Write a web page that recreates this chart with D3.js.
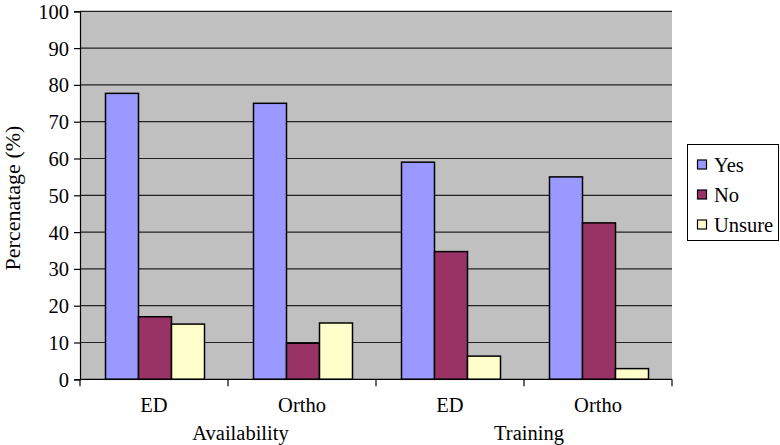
<!DOCTYPE html>
<html><head><meta charset="utf-8">
<script src="https://cdn.jsdelivr.net/npm/d3@7"></script>
<style>body{margin:0;background:#fff}svg{display:block}text{font-family:"Liberation Serif","Times New Roman",serif;fill:#000}</style>
</head><body><svg id="c" width="780" height="445"></svg>
<script>
const categories = ["ED", "Ortho", "ED", "Ortho"];
const groups = ["Availability", "Training"];
const seriesNames = ["Yes", "No", "Unsure"];
const yesValues = [77.7, 75.0, 59.0, 55.0];
const noValues = [17.0, 9.8, 34.7, 42.5];
const unsureValues = [15.0, 15.3, 6.3, 2.9];
const yTicks = [0, 10, 20, 30, 40, 50, 60, 70, 80, 90, 100];
const colors = ["#9999FF", "#993366", "#FFFFCC"];

const series = [yesValues, noValues, unsureValues];
const svg = d3.select("#c");
const L = 80, R = 672, T = 11.3, B = 379.3;
const FS = 20.5;
const groupLabelShift = [12.5, 5];
const x = d3.scaleBand().domain(d3.range(categories.length)).range([L, R]).paddingInner(0).paddingOuter(0);
const y = d3.scaleLinear().domain([0, 100]).range([B, T]);
const bw = 33;
const x1 = d3.scaleBand().domain(d3.range(3)).range([0, bw * 3]);

svg.append("rect").attr("x", L).attr("y", T).attr("width", R - L).attr("height", B - T).attr("fill", "#C0C0C0");
svg.append("g").selectAll("line").data(yTicks.slice(1)).join("line")
  .attr("x1", L).attr("x2", R).attr("y1", d => y(d)).attr("y2", d => y(d))
  .attr("stroke", "#222").attr("stroke-width", 1.2);

categories.forEach((c, i) => {
  const g0 = x(i) + (x.bandwidth() - bw * 3) / 2 + 1;
  series.forEach((s, k) => {
    svg.append("rect").attr("x", g0 + x1(k)).attr("y", y(s[i]))
      .attr("width", x1.bandwidth()).attr("height", B - y(s[i]))
      .attr("fill", colors[k]).attr("stroke", "#000").attr("stroke-width", 1.5);
  });
});

// y axis
const ya = svg.append("g").attr("transform", `translate(${L},0)`)
  .call(d3.axisLeft(y).tickValues(yTicks).tickSize(6).tickPadding(5));
ya.attr("font-family", null);
ya.select(".domain").attr("stroke", "#000").attr("stroke-width", 1.2);
ya.selectAll(".tick line").attr("stroke", "#000").attr("stroke-width", 1.2);
ya.selectAll(".tick text").attr("font-size", FS).attr("dy", "0.34em");

// x axis
const xa = svg.append("g").attr("transform", `translate(0,${B})`);
xa.append("line").attr("x1", L).attr("x2", R).attr("stroke", "#000").attr("stroke-width", 1.2);
const bounds = d3.range(categories.length + 1).map(i => i < categories.length ? x(i) : R);
xa.selectAll("line.t").data(bounds).join("line").attr("class", "t")
  .attr("x1", d => d).attr("x2", d => d).attr("y1", 0).attr("y2", 7)
  .attr("stroke", "#000").attr("stroke-width", 1.2);
xa.selectAll("text.c").data(categories).join("text").attr("class", "c")
  .attr("x", (d, i) => x(i) + x.bandwidth() / 2).attr("y", 33)
  .attr("text-anchor", "middle").attr("font-size", FS).text(d => d);
xa.selectAll("text.g").data(groups).join("text").attr("class", "g")
  .attr("x", (d, i) => x(i * 2) + x.bandwidth() + groupLabelShift[i]).attr("y", 61)
  .attr("text-anchor", "middle").attr("font-size", FS).text(d => d);

svg.append("text").attr("transform", `translate(20,198) rotate(-90)`)
  .attr("text-anchor", "middle").attr("font-size", 22).text("Percenatage (%)");

// legend
const lg = svg.append("g");
lg.append("rect").attr("x", 687.5).attr("y", 144.5).attr("width", 91).attr("height", 96)
  .attr("fill", "#fff").attr("stroke", "#000").attr("stroke-width", 1);
seriesNames.forEach((n, k) => {
  const cy = 165 + k * 30;
  lg.append("rect").attr("x", 697.5).attr("y", cy - 5).attr("width", 9).attr("height", 9)
    .attr("fill", colors[k]).attr("stroke", "#000").attr("stroke-width", 1.2);
  lg.append("text").attr("x", 714).attr("y", cy).attr("dy", "0.35em").attr("font-size", FS).text(n);
});
</script></body></html>
